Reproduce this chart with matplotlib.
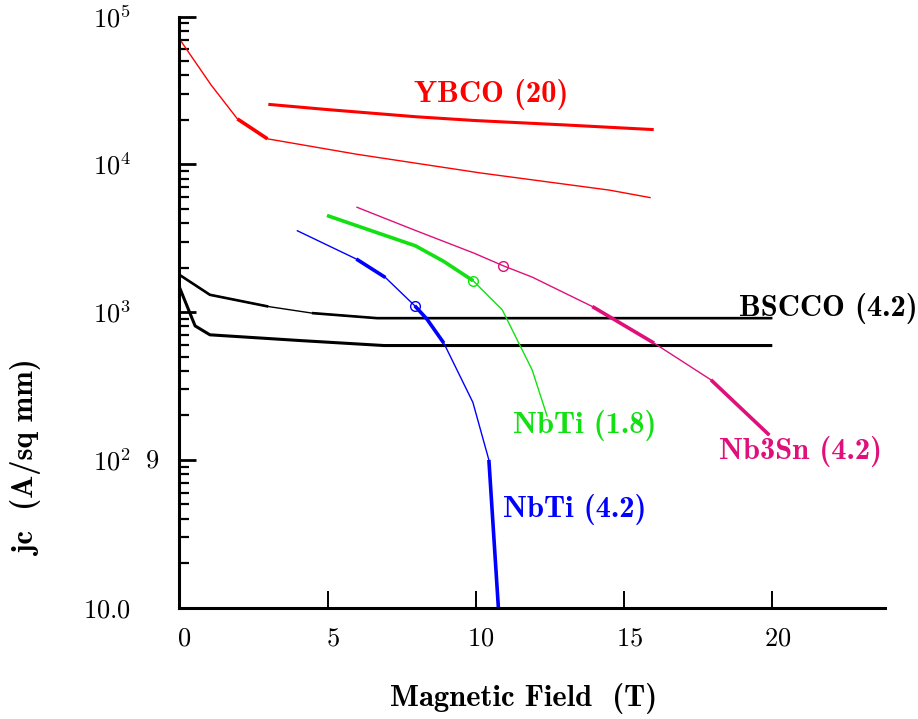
import numpy as np
import matplotlib
matplotlib.use("Agg")
import matplotlib.pyplot as plt
from matplotlib.transforms import ScaledTranslation

plt.rcParams['mathtext.fontset'] = 'cm'
plt.rcParams['axes.unicode_minus'] = False

# critical current density vs field
ybco_hi_x = [3, 5, 8, 10, 13, 16]
ybco_hi_y = [25500, 23500, 21000, 19800, 18500, 17200]

ybco_lo_x = [0, 1.06, 1.96, 2.97, 6, 10.16, 14.5, 15.9]
ybco_lo_y = [70800, 34700, 20300, 14900, 11700, 8750, 6700, 5950]

bscco_hi_x = [0, 1.03, 3.0, 4.47, 6.67, 20]
bscco_hi_y = [1790, 1310, 1091, 985, 910, 910]

bscco_lo_x = [0, 0.53, 1.03, 4.07, 6.9, 20]
bscco_lo_y = [1477, 807, 702, 642, 594, 594]

nbti42_x = [3.96, 5.97, 6.95, 7.94, 8.35, 8.92, 9.9, 10.44, 10.76]
nbti42_y = [3570, 2287, 1715, 1104, 897, 617, 245, 99.8, 10]

nbti18_x = [4.98, 6.55, 7.96, 8.92, 9.91, 10.89, 11.9, 12.41]
nbti18_y = [4510, 3516, 2812, 2203, 1630, 1037, 406, 196]

nb3sn_x = [5.97, 7.9, 9.93, 10.92, 11.9, 13.93, 16.01, 17.93, 19.9]
nb3sn_y = [5146, 3612, 2511, 2061, 1726, 1091, 617, 348, 147]

# open circle markers
circ_x = [7.94, 9.91, 10.92]
circ_y = [1104, 1630, 2061]

RED = '#ff0000'
GREEN = '#12e012'
BLUE = '#0000ff'
MAG = '#e0107a'

fig = plt.figure(figsize=(9.18, 7.19), dpi=100)
ax = fig.add_axes([0.1954, 0.155, 0.7686, 0.8218])

# thin base lines, then thicker pieces on top (index ranges)
def seg(xs, ys, color, lw_thin, thick, lw_thick=2.6):
    ax.plot(xs, ys, color=color, lw=lw_thin, solid_capstyle='butt')
    for a, b in thick:
        ax.plot(xs[a:b + 1], ys[a:b + 1], color=color, lw=lw_thick, solid_capstyle='butt')

seg(ybco_hi_x, ybco_hi_y, RED, 2.2, [])
seg(ybco_lo_x, ybco_lo_y, RED, 1.0, [(2, 3)])
seg(bscco_hi_x, bscco_hi_y, 'black', 1.0, [(0, 2), (3, 5)], 1.9)
seg(bscco_lo_x, bscco_lo_y, 'black', 2.2, [])
seg(nbti42_x, nbti42_y, BLUE, 1.0, [(1, 2), (3, 5), (7, 8)])
seg(nbti18_x, nbti18_y, GREEN, 1.0, [(0, 4)])
seg(nb3sn_x, nb3sn_y, MAG, 1.0, [(5, 6), (7, 8)])

for cx, cy, c in zip(circ_x, circ_y, [BLUE, GREEN, MAG]):
    ax.plot(cx, cy, 'o', mfc='none', mec=c, ms=7, mew=1.0)

ax.set_yscale('log')
ax.set_xlim(0, 23.8)
ax.set_ylim(10, 1e5)

for s in ['top', 'right']:
    ax.spines[s].set_visible(False)
for s in ['left', 'bottom']:
    ax.spines[s].set_linewidth(2.2)

ax.set_xticks([0, 5, 10, 15, 20])
ax.set_xticklabels(['$0$', '$5$', '$10$', '$15$', '$20$'])
ax.set_yticks([1e5, 1e4, 1e3, 1e2, 10])
ax.set_yticklabels(['$10^5$', '$10^4$', '$10^3$', '$10^2$', '$10.0$'])
ax.tick_params(axis='x', direction='in', length=12, width=1.4, labelsize=19, pad=13)
ax.tick_params(axis='y', which='major', direction='in', length=12, width=2.0, labelsize=19, pad=35)
ax.tick_params(axis='y', which='minor', direction='in', length=7.5, width=1.6)
ax.tick_params(axis='x', which='minor', bottom=False)
ax.xaxis.set_minor_locator(matplotlib.ticker.NullLocator())

off = ScaledTranslation(5 / 100, 0, fig.dpi_scale_trans)
for lab in ax.get_xticklabels():
    lab.set_transform(lab.get_transform() + off)

fig.text(152 / 918, 1 - 461 / 719, '$9$', ha='center', va='center', fontsize=19)

bold = dict(family='cmb10', fontsize=22)
ax.text(10.53, 29600, 'YBCO (20)', color=RED, ha='center', va='center', **bold)
ax.text(18.87, 1052, 'BSCCO (4.2)', color='black', ha='left', va='center', **bold)
ax.text(11.27, 172, 'NbTi (1.8)', color=GREEN, ha='left', va='center', **bold)
ax.text(18.2, 113, 'Nb3Sn (4.2)', color=MAG, ha='left', va='center', **bold)
ax.text(10.93, 45.8, 'NbTi (4.2)', color=BLUE, ha='left', va='center', **bold)

fig.text(524 / 918, 1 - 698 / 719, 'Magnetic Field  (T)', ha='center', va='center', **bold)
fig.text(28 / 918, 1 - 458 / 719, 'jc  (A/sq mm)', ha='center', va='center', rotation=90, **bold)

fig.savefig('out.png', dpi=100)
